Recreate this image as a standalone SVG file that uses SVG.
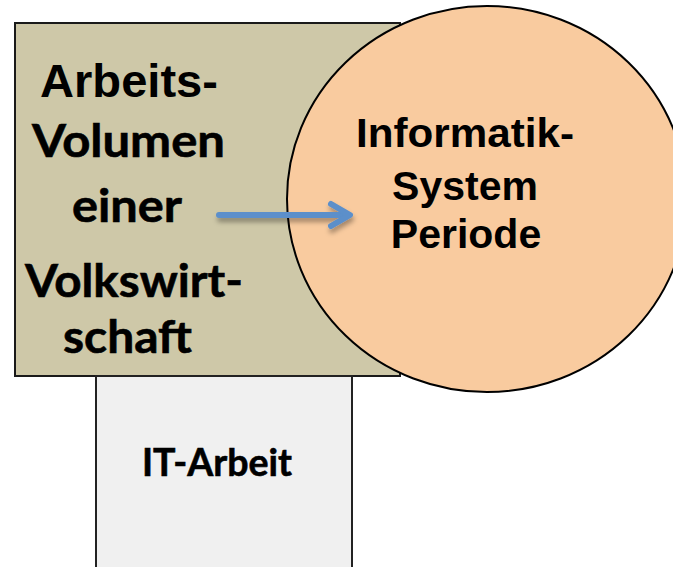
<svg xmlns="http://www.w3.org/2000/svg" width="673" height="567" viewBox="0 0 673 567">
<style>
.h{font-family:"Liberation Sans",Arial,sans-serif;font-weight:bold;fill:#000}
.c{font-family:Lato,"Open Sans",sans-serif;font-weight:bold;fill:#000;stroke:#000;stroke-width:0.6}
</style>
<defs>
<filter id="sh" x="-20%" y="-100%" width="140%" height="300%">
<feDropShadow dx="1" dy="4" stdDeviation="2.5" flood-color="#000" flood-opacity="0.35"/>
</filter>
</defs>
<rect width="673" height="567" fill="#fff"/>
<g id="volkswirtschaft">
<rect x="15" y="23" width="385" height="353" fill="#cec8a8" stroke="#1a1a1a" stroke-width="2"/>
</g>
<g id="it-arbeit">
<rect x="96" y="376" width="256" height="192" fill="#f0f0f0" stroke="#222" stroke-width="2"/>
<text class="c" x="217" y="476" font-size="38" text-anchor="middle" textLength="150" lengthAdjust="spacingAndGlyphs">IT-Arbeit</text>
</g>
<g id="informatik">
<ellipse cx="487" cy="199" rx="200" ry="193" fill="#f9cb9f" stroke="#000" stroke-width="2"/>
<text class="h" x="465" y="147" font-size="41" text-anchor="middle" textLength="218" lengthAdjust="spacingAndGlyphs">Informatik-</text>
<text class="h" x="465" y="200" font-size="41" text-anchor="middle">System</text>
<text class="h" x="466" y="248" font-size="41" text-anchor="middle">Periode</text>
</g>
<g id="volkswirtschaft-text">
<text class="h" x="129" y="97" font-size="47" text-anchor="middle" textLength="178" lengthAdjust="spacingAndGlyphs">Arbeits-</text>
<text class="c" x="128.5" y="157" font-size="46" text-anchor="middle" textLength="193" lengthAdjust="spacingAndGlyphs">Volumen</text>
<text class="c" x="127" y="222" font-size="46" text-anchor="middle" textLength="110" lengthAdjust="spacingAndGlyphs">einer</text>
<text class="c" x="134" y="297" font-size="46" text-anchor="middle" textLength="218" lengthAdjust="spacingAndGlyphs">Volkswirt-</text>
<text class="c" x="127.5" y="353" font-size="46" text-anchor="middle" textLength="129" lengthAdjust="spacingAndGlyphs">schaft</text>
</g>
<g id="connectors" filter="url(#sh)" fill="none" stroke="#5b8fca" stroke-width="6" stroke-linecap="round" stroke-linejoin="round">
<line x1="219" y1="215" x2="348" y2="215"/>
<polyline points="331,204 350,215 331,226"/>
</g>
</svg>
